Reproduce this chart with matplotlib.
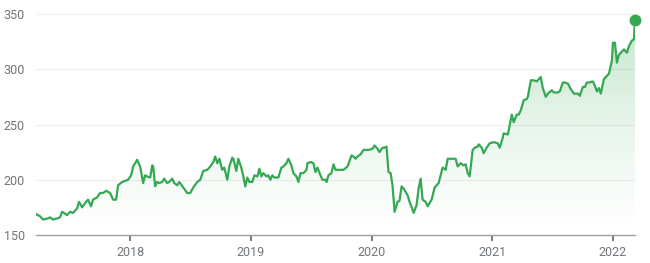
import numpy as np
import matplotlib
matplotlib.use("Agg")
import matplotlib.pyplot as plt
from matplotlib.colors import to_rgb

# price history (decimal year, closing price)
dates = [
    2017.220, 2017.253, 2017.278, 2017.320, 2017.336, 2017.361, 2017.394, 2017.419,
    2017.436, 2017.452, 2017.477, 2017.502, 2017.527, 2017.560, 2017.577, 2017.602,
    2017.627, 2017.651, 2017.676, 2017.693, 2017.726, 2017.751, 2017.776, 2017.801,
    2017.834, 2017.859, 2017.884, 2017.900, 2017.934, 2017.959, 2017.983, 2018.008,
    2018.025, 2018.058, 2018.083, 2018.108, 2018.124, 2018.141, 2018.166, 2018.183,
    2018.191, 2018.207, 2018.224, 2018.241, 2018.266, 2018.282, 2018.307, 2018.324,
    2018.349, 2018.365, 2018.390, 2018.407, 2018.440, 2018.473, 2018.498, 2018.523,
    2018.556, 2018.581, 2018.606, 2018.639, 2018.664, 2018.689, 2018.705, 2018.722,
    2018.739, 2018.763, 2018.780, 2018.805, 2018.822, 2018.846, 2018.855, 2018.880,
    2018.896, 2018.921, 2018.938, 2018.954, 2018.971, 2018.988, 2019.012, 2019.029,
    2019.054, 2019.071, 2019.087, 2019.104, 2019.129, 2019.145, 2019.162, 2019.178,
    2019.195, 2019.212, 2019.228, 2019.253, 2019.270, 2019.295, 2019.311, 2019.336,
    2019.353, 2019.378, 2019.394, 2019.411, 2019.436, 2019.461, 2019.469, 2019.494,
    2019.519, 2019.535, 2019.552, 2019.577, 2019.593, 2019.618, 2019.627, 2019.643,
    2019.668, 2019.685, 2019.701, 2019.726, 2019.768, 2019.801, 2019.834, 2019.851,
    2019.867, 2019.884, 2019.909, 2019.934, 2019.975, 2020.008, 2020.025, 2020.050,
    2020.066, 2020.091, 2020.108, 2020.124, 2020.141, 2020.158, 2020.174, 2020.191,
    2020.216, 2020.232, 2020.249, 2020.266, 2020.299, 2020.315, 2020.340, 2020.349,
    2020.373, 2020.390, 2020.407, 2020.423, 2020.448, 2020.465, 2020.498, 2020.523,
    2020.556, 2020.589, 2020.614, 2020.631, 2020.672, 2020.697, 2020.714, 2020.739,
    2020.763, 2020.780, 2020.797, 2020.813, 2020.838, 2020.855, 2020.880, 2020.888,
    2020.913, 2020.929, 2020.954, 2020.979, 2021.012, 2021.046, 2021.062, 2021.087,
    2021.095, 2021.129, 2021.137, 2021.162, 2021.178, 2021.203, 2021.220, 2021.237,
    2021.261, 2021.286, 2021.295, 2021.320, 2021.344, 2021.369, 2021.386, 2021.402,
    2021.419, 2021.444, 2021.461, 2021.494, 2021.510, 2021.544, 2021.560, 2021.585,
    2021.602, 2021.627, 2021.651, 2021.676, 2021.710, 2021.726, 2021.751, 2021.768,
    2021.784, 2021.801, 2021.834, 2021.851, 2021.867, 2021.884, 2021.900, 2021.925,
    2021.942, 2021.967, 2021.992, 2022.000, 2022.017, 2022.033, 2022.050, 2022.075,
    2022.091, 2022.116, 2022.133, 2022.158, 2022.174, 2022.183,
]
prices = [
    169, 167, 164, 165, 166, 164, 165, 166,
    171, 170, 168, 171, 170, 174, 180, 175,
    179, 182, 176, 182, 184, 188, 188, 190,
    188, 182, 182, 195, 198, 199, 200, 204,
    212, 218, 212, 197, 204, 203, 202, 213,
    212, 194, 198, 197, 198, 201, 197, 198,
    201, 197, 195, 198, 193, 188, 188, 193,
    198, 200, 208, 209, 212, 216, 221, 215,
    219, 209, 211, 200, 212, 220, 219, 208,
    219, 211, 203, 194, 202, 198, 198, 204,
    203, 210, 203, 206, 203, 204, 200, 204,
    202, 202, 202, 211, 212, 215, 219, 213,
    206, 203, 198, 206, 206, 209, 215, 216,
    215, 207, 211, 204, 200, 200, 198, 204,
    206, 214, 209, 209, 209, 212, 222, 221,
    219, 221, 223, 227, 227, 228, 231, 228,
    225, 229, 229, 230, 207, 206, 195, 171,
    180, 181, 194, 192, 186, 180, 173, 170,
    177, 192, 201, 182, 180, 176, 182, 193,
    197, 211, 209, 219, 219, 219, 212, 215,
    213, 214, 206, 203, 227, 229, 230, 232,
    229, 224, 229, 233, 234, 233, 229, 238,
    242, 241, 245, 259, 252, 259, 259, 263,
    272, 273, 275, 290, 290, 289, 291, 293,
    283, 275, 278, 281, 279, 279, 280, 288,
    288, 287, 282, 278, 278, 276, 284, 284,
    288, 288, 289, 285, 280, 283, 278, 291,
    293, 296, 308, 324, 324, 306, 313, 316,
    318, 315, 321, 326, 327, 345,
]
year_ticks = [2018, 2019, 2020, 2021, 2022]
price_ticks = [150, 200, 250, 300, 350]

green = "#34a853"
grey_text = "#70757a"

plt.rcParams['font.family'] = ['Roboto', 'DejaVu Sans']

fig = plt.figure(figsize=(6.5, 2.63), dpi=100)
ax = fig.add_axes([36/650, 28/263, 599/650, 221/263])

x = np.array(dates)
y = np.array(prices)

# gradient fill under the line
ymin, ymax = 150, 350
grad = np.zeros((256, 1, 4))
grad[:, 0, :3] = to_rgb(green)
grad[:, 0, 3] = np.linspace(0, 0.3, 256) ** 1.3 / 0.3 ** 0.3
img = ax.imshow(grad, aspect='auto', origin='lower',
                extent=[x[0], x[-1], ymin, ymax], zorder=1)
poly = ax.fill_between(x, y, ymin, color='none')
clip = poly.get_paths()[0]
img.set_clip_path(clip, transform=ax.transData)

ax.plot(x, y, color=green, lw=1.6, zorder=3, solid_joinstyle='round')
ax.plot(x[-1], y[-1], 'o', color=green, ms=7.5, zorder=4, clip_on=False)

ax.set_xlim(x[0], x[-1])
ax.set_ylim(ymin, ymax)
ax.set_yticks(price_ticks)
ax.set_xticks(year_ticks)
ax.set_xticklabels([str(t) for t in year_ticks])

for v in price_ticks[1:]:
    ax.axhline(v, color="#eeeeee", lw=0.8, zorder=0)

for s in ['top', 'right', 'left']:
    ax.spines[s].set_visible(False)
ax.spines['bottom'].set_color("#9aa0a6")
ax.spines['bottom'].set_linewidth(1)
ax.spines['bottom'].set_zorder(5)

ax.tick_params(axis='y', length=0, pad=8, labelsize=9, labelcolor=grey_text)
ax.tick_params(axis='x', length=4, width=1.2, color="#5f6368", pad=4,
               labelsize=9, labelcolor=grey_text)

fig.savefig("out.png", dpi=100)
